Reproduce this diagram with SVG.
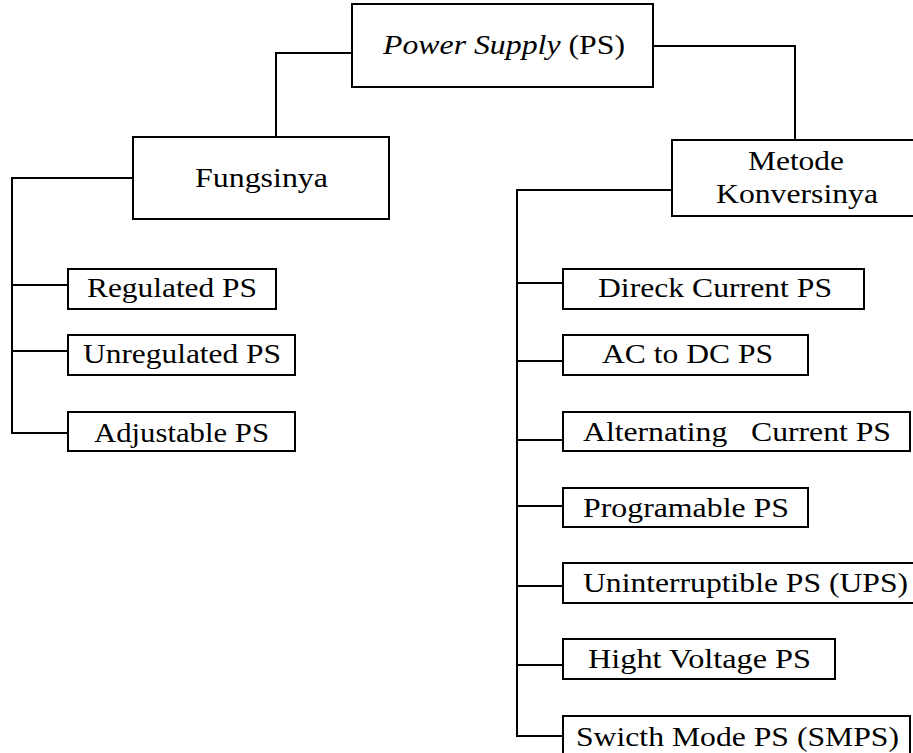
<svg xmlns="http://www.w3.org/2000/svg" width="913" height="753" viewBox="0 0 913 753">
<style>
rect{fill:#fff;stroke:#000;stroke-width:2}
.c path{fill:none;stroke:#000;stroke-width:2}
text{font-size:28px;fill:#000;white-space:pre}
</style>
<rect x="0" y="0" width="913" height="753" style="stroke:none"/>
<g class="c" id="connectors">
<path d="M352 53H276V137"/>
<path d="M653 46H795V140"/>
<path d="M133 178H12V433H68M12 285H68M12 351H68"/>
<path d="M672 190H517V736H563M517 283H563M517 361H563M517 440H563M517 506H563M517 586H563M517 665H563"/>
</g>
<g font-family="'Liberation Serif','Times New Roman',serif">
<g id="n-ps"><rect x="352" y="4" width="301" height="83"/><text x="383" y="54" font-size="30" textLength="242" lengthAdjust="spacingAndGlyphs"><tspan font-style="italic">Power Supply</tspan> (PS)</text></g>
<g id="n-fungsi"><rect x="133" y="137" width="256" height="82"/><text x="195" y="187" textLength="133" lengthAdjust="spacingAndGlyphs">Fungsinya</text></g>
<g id="n-metode"><rect x="672" y="140" width="250" height="76"/><text x="748" y="170" textLength="96" lengthAdjust="spacingAndGlyphs">Metode</text><text x="716" y="203" textLength="162" lengthAdjust="spacingAndGlyphs">Konversinya</text></g>
<g id="n-reg"><rect x="68" y="269" width="208" height="40"/><text x="87" y="297" textLength="170" lengthAdjust="spacingAndGlyphs">Regulated PS</text></g>
<g id="n-unreg"><rect x="68" y="335" width="227" height="40"/><text x="83" y="363" textLength="198" lengthAdjust="spacingAndGlyphs">Unregulated PS</text></g>
<g id="n-adj"><rect x="68" y="412" width="227" height="39"/><text x="94" y="442" textLength="175" lengthAdjust="spacingAndGlyphs">Adjustable PS</text></g>
<g id="n-dc"><rect x="563" y="269" width="301" height="40"/><text x="598" y="297" textLength="234" lengthAdjust="spacingAndGlyphs">Direck Current PS</text></g>
<g id="n-acdc"><rect x="563" y="335" width="245" height="40"/><text x="602" y="363" textLength="171" lengthAdjust="spacingAndGlyphs">AC to DC PS</text></g>
<g id="n-ac"><rect x="563" y="412" width="347" height="39"/><text x="583" y="441" textLength="308" lengthAdjust="spacingAndGlyphs">Alternating   Current PS</text></g>
<g id="n-prog"><rect x="563" y="488" width="245" height="39"/><text x="583" y="517" textLength="206" lengthAdjust="spacingAndGlyphs">Programable PS</text></g>
<g id="n-ups"><rect x="563" y="563" width="360" height="40"/><text x="583" y="592" textLength="325" lengthAdjust="spacingAndGlyphs">Uninterruptible PS (UPS)</text></g>
<g id="n-hv"><rect x="563" y="639" width="272" height="40"/><text x="588" y="668" textLength="223" lengthAdjust="spacingAndGlyphs">Hight Voltage PS</text></g>
<g id="n-smps"><rect x="563" y="716" width="347" height="50"/><text x="576" y="746" textLength="323" lengthAdjust="spacingAndGlyphs">Swicth Mode PS (SMPS)</text></g>
</g>
</svg>
